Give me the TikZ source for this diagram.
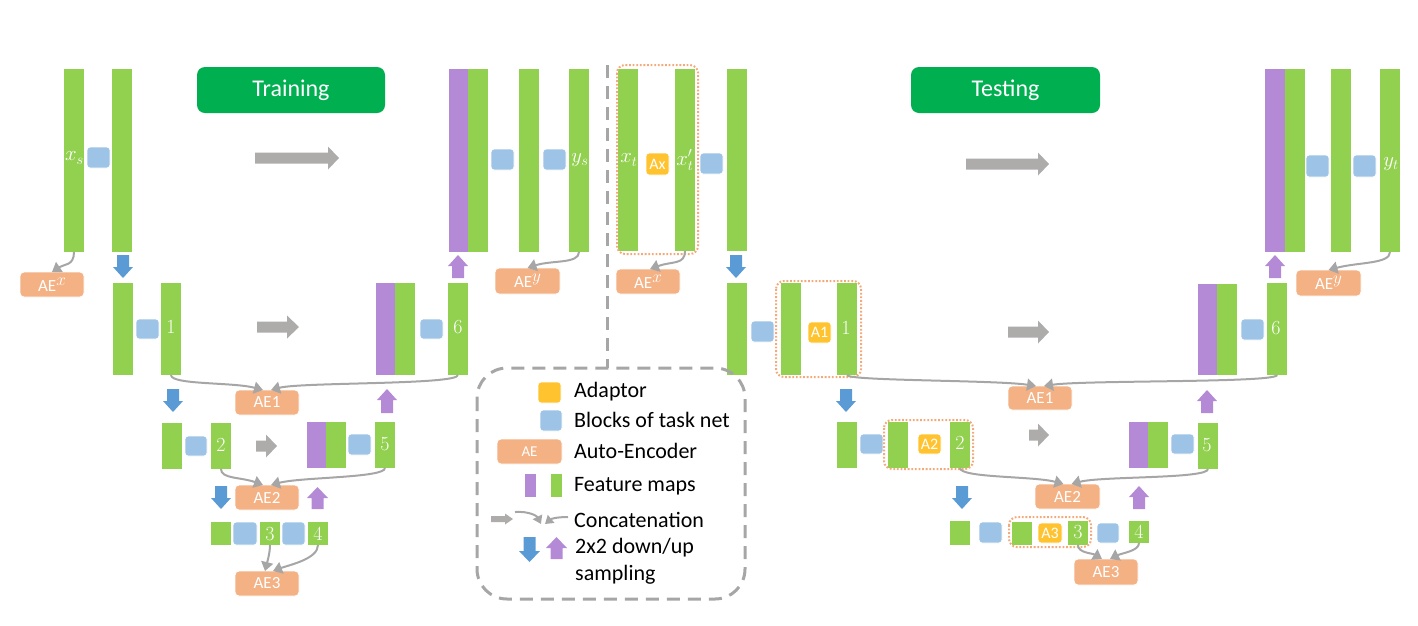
\documentclass[tikz,border=0pt]{standalone}
\usepackage{fontspec}
\newfontfamily\calib{Carlito}
\usetikzlibrary{arrows.meta}
\definecolor{fgreen}{HTML}{92D050}
\definecolor{fpurple}{HTML}{B48AD6}
\definecolor{bblue}{HTML}{9DC3E6}
\definecolor{aeorange}{HTML}{F4B183}
\definecolor{adyellow}{HTML}{FFC330}
\definecolor{arrgray}{HTML}{AEABAB}
\definecolor{conngray}{HTML}{A6A6A6}
\definecolor{darrblue}{HTML}{5B9BD5}
\definecolor{titlegreen}{HTML}{00B050}
\definecolor{dotorange}{HTML}{F4A97A}
\definecolor{dashgray}{HTML}{A6A6A6}
\tikzset{
  fm/.style={rectangle, inner sep=0pt, outer sep=0pt, draw=none},
  blk/.style={rectangle, rounded corners=3pt, fill=bblue, draw=white, line width=0.8pt, inner sep=0pt, outer sep=0pt},
  aeb/.style={rectangle, rounded corners=4pt, fill=aeorange, draw=white, line width=0.8pt, inner sep=0pt, outer sep=0pt, text=white, font=\calib\fontsize{17}{20}\selectfont},
  adp/.style={rectangle, rounded corners=3pt, fill=adyellow, draw=white, line width=0.8pt, inner sep=0pt, outer sep=0pt, text=white, font=\calib\fontsize{16}{18}\selectfont},
  conn/.style={draw=conngray, line width=2pt, -{Triangle[length=9pt,width=12pt]}},
  lconn/.style={draw=conngray, line width=2pt, -{Triangle[length=8pt,width=10pt]}},
  dotbox/.style={draw=dotorange, line width=2pt, dash pattern=on 1.8pt off 1.8pt, rounded corners=8pt},
  dashline/.style={draw=dashgray, line width=3pt, dash pattern=on 13pt off 8pt},
  lbl/.style={text=white, font=\fontsize{20}{22}\selectfont, inner sep=0pt},
  mlbl/.style={text=white, font=\fontsize{22}{24}\selectfont, inner sep=0pt},
  title/.style={rectangle, rounded corners=8pt, fill=titlegreen, text=white, font=\calib\fontsize{24}{28}\selectfont, inner sep=0pt},
  legtxt/.style={anchor=west, font=\calib\fontsize{22}{24}\selectfont, inner sep=0pt},
}
\newcommand\supx[1]{\raisebox{6pt}{\fontsize{16}{16}\selectfont$#1$}}
% feature map: name x1 y1 x2 y2 colour
\newcommand\fmap[6]{\node[fm, fill=#6, minimum width={(#4-#2)*1pt}, minimum height={(#5-#3)*1pt}] (#1) at ({(#2+#4)/2},{(#3+#5)/2}) {};}
% block of task net: name x1 y1 x2 y2
\newcommand\blkbox[5]{\node[blk, minimum width={(#4-#2)*1pt}, minimum height={(#5-#3)*1pt}] (#1) at ({(#2+#4)/2},{(#3+#5)/2}) {};}
% auto-encoder: name x1 y1 x2 y2 text
\newcommand\aebox[6]{\node[aeb, minimum width={(#4-#2)*1pt}, minimum height={(#5-#3)*1pt}] (#1) at ({(#2+#4)/2},{(#3+#5)/2}) {#6};}
% adaptor: name x1 y1 x2 y2 text
\newcommand\adpbox[6]{\node[adp, minimum width={(#4-#2)*1pt}, minimum height={(#5-#3)*1pt}] (#1) at ({(#2+#4)/2},{(#3+#5)/2}) {#6};}
% gray right block arrow: x1 x2 yc headstart
\newcommand\rarr[4]{\fill[arrgray] (#1,{#3-5.5}) -- (#4,{#3-5.5}) -- (#4,{#3-11.5}) -- (#2,#3) -- (#4,{#3+11.5}) -- (#4,{#3+5.5}) -- (#1,{#3+5.5}) -- cycle;}
% down arrow: colour x1 x2 y1 y2
\newcommand\darr[5]{\fill[#1] ({(#2+#3)/2-6},#4) -- ({(#2+#3)/2+6},#4) -- ({(#2+#3)/2+6},{#5-11}) -- (#3,{#5-11}) -- ({(#2+#3)/2},#5) -- (#2,{#5-11}) -- ({(#2+#3)/2-6},{#5-11}) -- cycle;}
% up arrow: colour x1 x2 y1 y2
\newcommand\uarr[5]{\fill[#1] ({(#2+#3)/2-6},#5) -- ({(#2+#3)/2+6},#5) -- ({(#2+#3)/2+6},{#4+11}) -- (#3,{#4+11}) -- ({(#2+#3)/2},#4) -- (#2,{#4+11}) -- ({(#2+#3)/2-6},{#4+11}) -- cycle;}
\begin{document}
\begin{tikzpicture}[x=1pt,y=-1pt]
\useasboundingbox (0,0) rectangle (1418,625);

% ================= TRAINING =================
\node[title, minimum width=188pt, minimum height=46pt] (train) at (291,90) {\raisebox{-2pt}{Training}};
% top row encoder
\fmap{xs}{64}{69}{84}{252}{fgreen}
\blkbox{tb0}{87}{147}{110}{168}
\fmap{e0}{112}{69}{132}{252}{fgreen}
\node[mlbl] (xsl) at (74.5,158) {$x_s$};
\rarr{255}{339}{158}{328}
% top row decoder
\fmap{d0p}{449}{69}{468}{252}{fpurple}
\fmap{d0g}{468}{69}{488}{252}{fgreen}
\blkbox{tbd1}{491}{149}{514}{170}
\fmap{d0b}{519}{69}{539}{252}{fgreen}
\blkbox{tbd2}{543}{149}{566}{170}
\fmap{ys}{569}{69}{589}{252}{fgreen}
\node[mlbl] (ysl) at (580,160) {$y_s$};
\aebox{aex}{20}{272}{84}{297}{AE\supx{x}}
\aebox{aey}{495}{268}{560}{294}{AE\supx{y}}
\darr{darrblue}{113}{133}{255}{278}
\uarr{fpurple}{448}{468}{255}{278}
% level 1
\fmap{e1a}{113}{283}{133}{375}{fgreen}
\blkbox{tb1}{136}{319}{159}{339}
\fmap{b1}{161}{283}{181}{375}{fgreen}
\node[lbl] (b1l) at (171,327) {1};
\rarr{257}{299}{327}{287}
\fmap{d1p}{376}{283}{395}{375}{fpurple}
\fmap{d1g}{395}{283}{415}{375}{fgreen}
\blkbox{tb6}{420}{319}{443}{339}
\fmap{b6}{448}{283}{468}{375}{fgreen}
\node[lbl] (b6l) at (458,327) {6};
\aebox{ae1}{235}{390}{299}{415}{AE1}
\darr{darrblue}{163}{183}{389}{412}
\uarr{fpurple}{377}{397}{389}{413}
% level 2
\fmap{e2a}{162}{423}{182}{469}{fgreen}
\blkbox{tb2}{185}{436}{207}{456}
\fmap{b2}{211}{423}{231}{469}{fgreen}
\node[lbl] (b2l) at (221,445) {2};
\rarr{256}{277}{446}{266}
\fmap{d2p}{307}{422}{326}{468}{fpurple}
\fmap{d2g}{326}{422}{346}{468}{fgreen}
\blkbox{tb5}{348}{434}{371}{455}
\fmap{b5}{375}{422}{395}{468}{fgreen}
\node[lbl] (b5l) at (385,444) {5};
\aebox{ae2}{235}{485}{299}{510}{AE2}
\darr{darrblue}{211}{231}{486}{509}
\uarr{fpurple}{307}{328}{487}{509}
% level 3
\fmap{e3a}{211}{522}{231}{545}{fgreen}
\blkbox{tb3a}{233}{522}{257}{545}
\fmap{b3}{260}{522}{280}{545}{fgreen}
\node[lbl] (b3l) at (270,534) {3};
\blkbox{tb3b}{282}{522}{305}{545}
\fmap{b4}{308}{522}{328}{545}{fgreen}
\node[lbl] (b4l) at (318,534) {4};
\aebox{ae3}{235}{571}{299}{596}{AE3}
% connectors training
\draw[conn] (xs.south) .. controls +(0,14) and +(12,-8) .. (aex.north);
\draw[conn] (ys.south) .. controls +(0,12) and +(24,-8) .. (aey.north);
\draw[conn] (b1.south) .. controls +(0,10) and +(-30,-8) .. ([xshift=-4pt]ae1.north);
\draw[conn] (b6.south) .. controls +(0,10) and +(30,-8) .. ([xshift=4pt]ae1.north);
\draw[conn] (b2.south) .. controls +(0,10) and +(-22,-8) .. ([xshift=-4pt]ae2.north);
\draw[conn] (b5.south) .. controls +(0,10) and +(30,-8) .. ([xshift=4pt]ae2.north);
\draw[conn] (b3.south) .. controls +(0,8) and +(2,-8) .. ([xshift=-2pt]ae3.north);
\draw[conn] (b4.south) .. controls +(0,14) and +(16,-6) .. ([xshift=6pt]ae3.north);

% divider
\draw[dashline] (607,65) -- (607,368);

% ================= TESTING =================
\node[title, minimum width=189pt, minimum height=46pt] (test) at (1005.5,90) {\raisebox{-2pt}{Testing}};
\fmap{xt}{618}{69}{638}{251}{fgreen}
\node[mlbl] (xtl) at (629,160) {$x_t$};
\adpbox{ax}{646}{153}{669}{175}{Ax}
\fmap{xtp}{675}{69}{695}{251}{fgreen}
\node[mlbl] (xtpl) at (685,160) {$x'_t$};
\draw[dotbox] (617,65) rectangle (698,254);
\blkbox{sb0}{700}{153}{723}{174}
\fmap{s0}{727}{69}{747}{251}{fgreen}
\rarr{966}{1049}{164}{1038}
\fmap{u0p}{1265}{69}{1285}{252}{fpurple}
\fmap{u0g}{1285}{69}{1305}{252}{fgreen}
\blkbox{sbd1}{1306}{155}{1329}{177}
\fmap{u0b}{1331}{69}{1351}{252}{fgreen}
\blkbox{sbd2}{1353}{155}{1376}{177}
\fmap{yt}{1380}{69}{1400}{252}{fgreen}
\node[mlbl] (ytl) at (1391,164) {$y_t$};
\aebox{aex2}{616}{269}{680}{294}{AE\supx{x}}
\aebox{aey2}{1296}{270}{1361}{296}{AE\supx{y}}
\darr{darrblue}{726}{746}{255}{278}
\uarr{fpurple}{1265}{1285}{255}{278}
% level 1
\fmap{s1a}{727}{283}{747}{375}{fgreen}
\blkbox{sb1}{751}{321}{774}{342}
\fmap{s1b}{781}{283}{801}{375}{fgreen}
\adpbox{a1}{808}{322}{831}{343}{A1}
\fmap{tb1}{837}{283}{857}{375}{fgreen}
\node[lbl] (tb1l) at (846,328) {1};
\draw[dotbox] (776,281) rectangle (861,377);
\rarr{1008}{1049}{332}{1038}
\fmap{u1p}{1198}{284}{1217}{375}{fpurple}
\fmap{u1g}{1217}{284}{1237}{375}{fgreen}
\blkbox{sb6}{1241}{319}{1264}{340}
\fmap{tb6}{1267}{283}{1287}{375}{fgreen}
\node[lbl] (tb6l) at (1276,328) {6};
\aebox{tae1}{1008}{386}{1072}{410}{AE1}
\darr{darrblue}{836}{856}{389}{412}
\uarr{fpurple}{1197}{1217}{390}{413}
% level 2
\fmap{s2a}{837}{422}{857}{468}{fgreen}
\blkbox{sb2}{860}{434}{883}{454}
\fmap{s2b}{888}{422}{908}{468}{fgreen}
\adpbox{a2}{918}{434}{941}{454}{A2}
\fmap{tb2}{950}{422}{970}{468}{fgreen}
\node[lbl] (tb2l) at (960,443) {2};
\draw[dotbox] (884,420) rectangle (973,469);
\rarr{1029}{1049}{435}{1038}
\fmap{u2p}{1129}{422}{1148}{468}{fpurple}
\fmap{u2g}{1148}{422}{1168}{468}{fgreen}
\blkbox{sb5}{1171}{434}{1194}{454}
\fmap{tb5}{1198}{423}{1218}{469}{fgreen}
\node[lbl] (tb5l) at (1207,445) {5};
\aebox{tae2}{1035}{484}{1100}{509}{AE2}
\darr{darrblue}{952}{972}{486}{509}
\uarr{fpurple}{1129}{1149}{486}{509}
% level 3
\fmap{s3a}{950}{521}{970}{545}{fgreen}
\blkbox{sb3a}{979}{522}{1002}{543}
\fmap{s3b}{1012}{522}{1032}{545}{fgreen}
\adpbox{a3}{1038}{523}{1062}{543}{A3}
\fmap{tb3}{1068}{521}{1088}{545}{fgreen}
\node[lbl] (tb3l) at (1078,532) {3};
\draw[dotbox] (1009,517) rectangle (1091,547);
\blkbox{sb3b}{1097}{523}{1119}{543}
\fmap{tb4}{1129}{521}{1149}{543}{fgreen}
\node[lbl] (tb4l) at (1139,532) {4};
\aebox{tae3}{1074}{559}{1138}{585}{AE3}
% connectors testing
\draw[conn] (xtp.south) .. controls +(0,14) and +(22,-8) .. ([xshift=2pt]aex2.north);
\draw[conn] (yt.south) .. controls +(0,12) and +(30,-8) .. (aey2.north);
\draw[conn] (tb1.south) .. controls +(0,6) and +(-40,-6) .. ([xshift=-4pt]tae1.north);
\draw[conn] (tb6.south) .. controls +(0,8) and +(40,-6) .. ([xshift=4pt]tae1.north);
\draw[conn] (tb2.south) .. controls +(0,10) and +(-30,-8) .. ([xshift=-4pt]tae2.north);
\draw[conn] (tb5.south) .. controls +(0,10) and +(30,-8) .. ([xshift=4pt]tae2.north);
\draw[conn] (tb3.south) .. controls +(0,8) and +(-10,-6) .. ([xshift=-4pt]tae3.north);
\draw[conn] (tb4.south) .. controls +(0,8) and +(12,-6) .. ([xshift=4pt]tae3.north);

% ================= LEGEND =================
\draw[dashline, rounded corners=30pt] (477,368) rectangle (745,599);
\adpbox{lgA}{538}{382}{561}{403}{}
\node[legtxt] (lgAt) at (574,392) {Adaptor};
\blkbox{lgB}{540}{410}{562}{431}
\node[legtxt] (lgBt) at (574,420) {Blocks of task net};
\node[aeb, minimum width=65pt, minimum height=25pt, font=\calib\fontsize{15}{18}\selectfont] (lgC) at (529.5,451.5) {AE};
\node[legtxt] (lgCt) at (574,451) {Auto-Encoder};
\fmap{lgDp}{525}{474}{536}{497}{fpurple}
\fmap{lgDg}{551}{474}{562}{497}{fgreen}
\node[legtxt] (lgDt) at (574,486) {Feature maps};
\fill[arrgray] (491,516) -- (505,516) -- (505,513.5) -- (513,519) -- (505,524.5) -- (505,522) -- (491,522) -- cycle;
\coordinate (lc1s) at (515,512);
\coordinate (lc1e) at (541,524);
\coordinate (lc2s) at (568,517);
\coordinate (lc2e) at (545,524);
\draw[lconn] (lc1s) .. controls +(14,-1) and +(-4,-8) .. (lc1e);
\draw[lconn] (lc2s) .. controls +(-12,0) and +(6,-5) .. (lc2e);
\node[legtxt] (lgEt) at (574,520) {Concatenation};
\darr{darrblue}{519}{540}{537}{562}
\uarr{fpurple}{546}{567}{537}{559}
\node[legtxt] (lgFt) at (575,548) {2x2 down/up};
\node[legtxt] (lgGt) at (575,575) {sampling};
\end{tikzpicture}
\end{document}
